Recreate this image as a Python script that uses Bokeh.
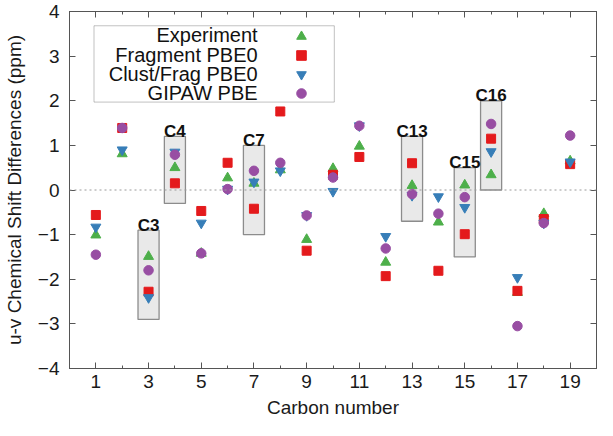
import numpy as np
from bokeh.plotting import figure
from bokeh.models import (FixedTicker, LinearAxis, Range1d, Span, Label, BoxAnnotation,
                          Legend, LegendItem, CustomJSTickFormatter)
from bokeh.embed import file_html
from bokeh.resources import INLINE
from bokeh.core.properties import value

# ---------------- data ----------------
carbon = list(range(1, 20))
experiment = [-1.01, 0.81, -1.49, 0.50, -1.42, 0.27, 0.15, 0.45, -1.11, 0.48,
              0.98, -1.62, 0.10, -0.72, 0.11, 0.34, -2.30, -0.53, 0.65]
fragment = [-0.56, 1.39, -2.28, 0.15, -0.47, 0.61, -0.42, 1.76, -1.36, 0.34,
            0.74, -1.93, 0.60, -1.81, -0.99, 1.15, -2.26, -0.65, 0.58]
clustfrag = [-0.83, 0.90, -2.41, 0.85, -0.74, 0.02, 0.18, 0.43, -0.57, -0.03,
             1.44, -1.04, -0.12, -0.15, -0.39, 0.86, -1.96, -0.74, 0.63]
gipaw = [-1.45, 1.39, -1.80, 0.79, -1.42, 0.02, 0.43, 0.61, -0.57, 0.28,
         1.44, -1.31, -0.09, -0.53, -0.16, 1.48, -3.05, -0.74, 1.22]

box_carbon = [3, 4, 7, 13, 15, 16]
box_low = [-2.9, -0.3, -1.0, -0.7, -1.5, 0.0]
box_high = [-0.9, 1.2, 1.0, 1.2, 0.5, 2.0]
box_names = ["C3", "C4", "C7", "C13", "C15", "C16"]

series_names = ["Experiment", "Fragment PBE0", "Clust/Frag PBE0", "GIPAW PBE"]

x_major = list(range(1, 20, 2))
x_minor = list(range(0, 21, 2))
y_ticks = list(range(-4, 5))

FONT = "Liberation Sans"
AXC = "#555555"

p = figure(width=597, height=420, x_range=Range1d(0, 20), y_range=Range1d(-4, 4),
           output_backend="svg", toolbar_location=None,
           min_border_left=0, min_border_right=1, min_border_top=11, min_border_bottom=0)
p.grid.visible = False
p.outline_line_color = AXC
p.outline_line_width = 1
p.background_fill_color = "white"

# axes
def style_axis(ax, major, minor, labels=True):
    ax.ticker = FixedTicker(ticks=major, minor_ticks=minor)
    ax.major_tick_in = 6
    ax.major_tick_out = 0
    ax.minor_tick_in = 3
    ax.minor_tick_out = 0
    ax.axis_line_color = AXC
    ax.major_tick_line_color = AXC
    ax.minor_tick_line_color = AXC
    ax.major_label_text_font = FONT
    ax.major_label_text_font_size = "19px"
    ax.major_label_text_color = "#1a1a1a"
    ax.axis_label_text_font = FONT
    ax.axis_label_text_font_size = "19px"
    ax.axis_label_text_font_style = "normal"
    ax.axis_label_text_color = "#1a1a1a"
    if not labels:
        ax.formatter = CustomJSTickFormatter(code="return ''")
        ax.major_label_standoff = 0

xa = p.xaxis[0]
style_axis(xa, x_major, x_minor)
xa.axis_label = "Carbon number"
xa.major_label_standoff = 6
xa.axis_label_standoff = 6

ya = p.yaxis[0]
style_axis(ya, y_ticks, [])
ya.axis_label = "u-v Chemical Shift Differences (ppm)"
ya.major_label_standoff = 10
ya.axis_label_standoff = 10

top = LinearAxis()
style_axis(top, x_major, x_minor, labels=False)
p.add_layout(top, "above")
right = LinearAxis()
style_axis(right, y_ticks, [], labels=False)
p.add_layout(right, "right")

# zero line
p.add_layout(Span(location=0, dimension="width", line_color="#9a9a9a",
                  line_dash="2 3", line_width=1))

# highlight boxes
bx = np.array(box_carbon, dtype=float)
blo = np.array(box_low)
bhi = np.array(box_high)
p.quad(left=bx - 0.4, right=bx + 0.4, bottom=blo, top=bhi,
       fill_color="#e9e9e9", line_color="#8c8c8c", line_width=1.3)
p.text(x=box_carbon, y=box_high, text=box_names, text_align="center",
       text_baseline="alphabetic", y_offset=-5,
       text_font=value(FONT), text_font_size="17px", text_font_style="bold",
       text_color="#111111")

# series
r1 = p.scatter(carbon, experiment, marker="triangle", size=10,
               fill_color="#4daf4a", line_color="#4daf4a")
r2 = p.scatter(carbon, fragment, marker="square", size=9,
               fill_color="#e41a1c", line_color="#e41a1c")
r3 = p.scatter(carbon, clustfrag, marker="inverted_triangle", size=10,
               fill_color="#377eb8", line_color="#377eb8")
r4 = p.scatter(carbon, gipaw, marker="circle", size=9.5,
               fill_color="#984ea3", line_color="#984ea3")

# legend (gnuplot style: text right-aligned, key on right)
p.add_layout(BoxAnnotation(left=0.93, right=10.05, bottom=1.97, top=3.68,
                           fill_color=None, line_color="#333333", line_width=1))
leg_y = [3.47, 3.03, 2.61, 2.18]
for name, yy in zip(series_names, leg_y):
    p.add_layout(Label(x=7.14, y=yy, text=name, text_align="right",
                       text_baseline="middle", text_font=FONT,
                       text_font_size="20px", text_color="#111111"))

# one key per row, placed in frame pixels (frame ~536 x 356)
key_bottoms = [320, 301, 282, 263]
for r, yb in zip((r1, r2, r3, r4), key_bottoms):
    lg = Legend(items=[LegendItem(label=value(""), renderers=[r])],
                location=(220, yb), orientation="vertical",
                border_line_color=None, background_fill_alpha=0,
                padding=0, margin=0, spacing=0,
                glyph_width=24, glyph_height=24,
                label_standoff=0, label_width=0, label_height=0,
                label_text_font_size="1px")
    p.add_layout(lg)

open("out.html", "w").write(file_html(p, INLINE))
